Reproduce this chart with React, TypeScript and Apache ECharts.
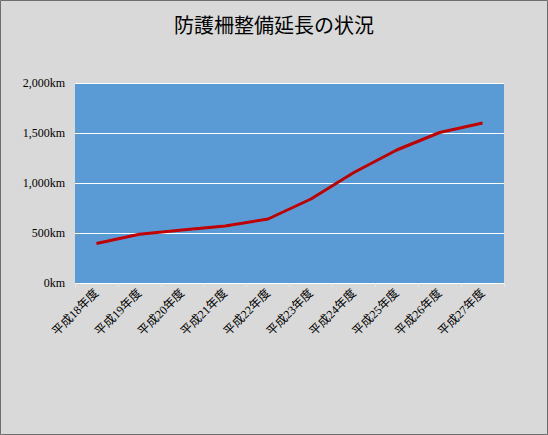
import React, { useEffect, useRef } from "react";
import * as echarts from "echarts";

const categories = ["平成18年度", "平成19年度", "平成20年度", "平成21年度", "平成22年度", "平成23年度", "平成24年度", "平成25年度", "平成26年度", "平成27年度"];
const lengths = [395, 487, 530, 570, 640, 840, 1105, 1330, 1505, 1600];
const titleText = "防護柵整備延長の状況";

const FONT = "'Liberation Serif', 'Noto Sans CJK JP', serif";

export default function App() {
  const ref = useRef<HTMLDivElement>(null);
  useEffect(() => {
    const chart = echarts.init(ref.current!, null, { renderer: "svg" });
    chart.setOption({
      animation: false,
      backgroundColor: "#d9d9d9",
      title: {
        text: titleText,
        left: "center",
        top: 11,
        textStyle: { fontFamily: FONT, fontSize: 20, fontWeight: "normal", color: "#000" },
      },
      graphic: [
        {
          type: "rect",
          shape: { x: 0.5, y: 0.5, width: 547, height: 434 },
          style: { fill: "none", stroke: "#6e6e6e", lineWidth: 1 },
          silent: true,
        },
      ],
      grid: {
        left: 75,
        right: 44,
        top: 83,
        bottom: 152,
        show: true,
        backgroundColor: "#5b9bd5",
        borderWidth: 0,
      },
      xAxis: {
        type: "category",
        data: categories,
        boundaryGap: true,
        axisLine: { show: false },
        axisTick: { show: true, length: 4, lineStyle: { color: "#e8e8e8" } },
        axisLabel: {
          rotate: 45,
          interval: 0,
          fontFamily: FONT,
          fontSize: 12,
          color: "#000",
          margin: 8,
        },
      },
      yAxis: {
        type: "value",
        min: 0,
        max: 2000,
        interval: 500,
        axisLine: { show: false },
        axisTick: { show: false },
        splitLine: { show: true, lineStyle: { color: "#ffffff", width: 1 } },
        axisLabel: {
          fontFamily: FONT,
          fontSize: 12,
          color: "#000",
          margin: 10,
          formatter: (v: number) => v.toLocaleString("en-US") + "km",
        },
      },
      series: [
        {
          type: "line",
          data: lengths,
          symbol: "none",
          lineStyle: { color: "#c00000", width: 3 },
        },
      ],
    });
    return () => chart.dispose();
  }, []);
  return (
    <div
      ref={ref}
      style={{ position: "fixed", left: 0, top: 0, width: 548, height: 435 }}
    />
  );
}
